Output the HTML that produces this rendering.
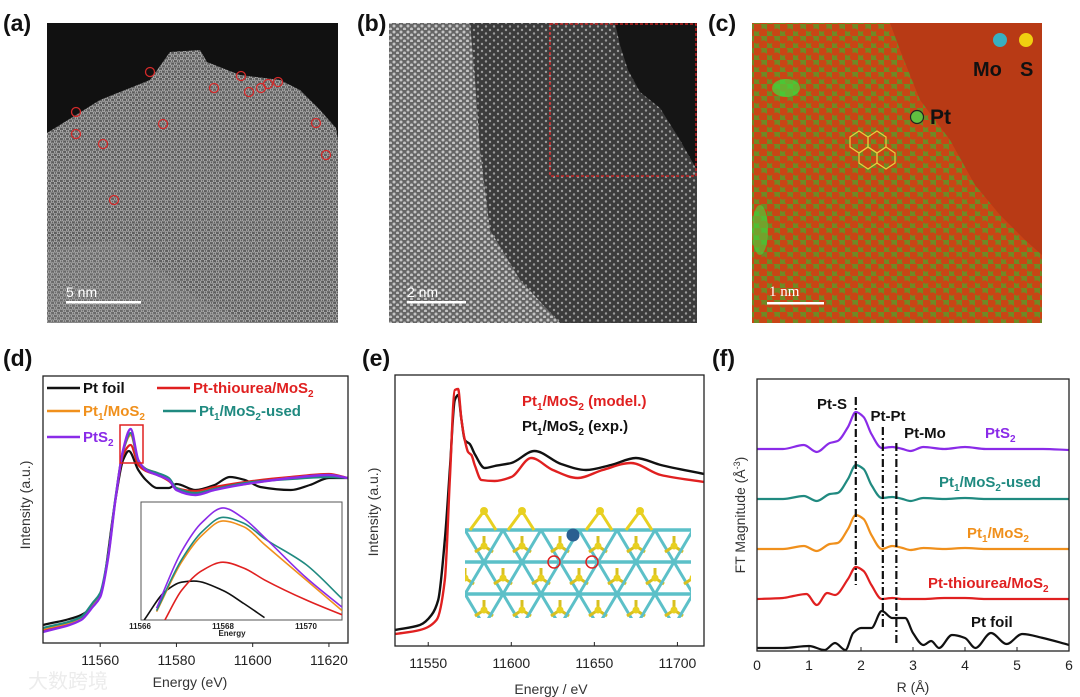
<!DOCTYPE html>
<html><head><meta charset="utf-8">
<style>
html,body{margin:0;padding:0;background:#fff;}
svg{display:block;font-family:"Liberation Sans","Noto Sans CJK SC",sans-serif;}
.pl{font-weight:bold;font-size:23px;fill:#111;}
.tk{font-size:14px;fill:#222;}
.at{font-size:14px;fill:#333;}
</style></head>
<body>
<svg id="fig" width="1080" height="697" viewBox="0 0 1080 697">
<defs>
  <pattern id="hexA" width="6" height="5.2" patternUnits="userSpaceOnUse">
    <rect width="6" height="5.2" fill="#5e5e5e"/>
    <circle cx="1.5" cy="1.3" r="1.3" fill="none" stroke="#b8b8b8" stroke-width="0.8"/>
    <circle cx="4.5" cy="3.9" r="1.3" fill="none" stroke="#b8b8b8" stroke-width="0.8"/>
  </pattern>
  <pattern id="dotB" width="7" height="6" patternUnits="userSpaceOnUse">
    <rect width="7" height="6" fill="#666"/>
    <circle cx="2" cy="2" r="1.5" fill="#c4c4c4"/>
    <circle cx="5.5" cy="5" r="1.5" fill="#c4c4c4"/>
  </pattern>
  <pattern id="dotB2" width="8" height="7" patternUnits="userSpaceOnUse">
    <rect width="8" height="7" fill="#3c3c3c"/>
    <circle cx="2" cy="2" r="1.2" fill="#9a9a9a"/>
    <circle cx="6" cy="5.5" r="1.2" fill="#9a9a9a"/>
  </pattern>
  <pattern id="dotC" width="13" height="12" patternUnits="userSpaceOnUse">
    <rect width="13" height="12" fill="#6f8a25"/>
    <circle cx="3" cy="3" r="4.6" fill="#c94515"/>
    <circle cx="9.5" cy="9" r="4.6" fill="#c94515"/>
  </pattern>
</defs>

<text class="pl" x="3" y="31">(a)</text>
<text class="pl" x="357" y="31">(b)</text>
<text class="pl" x="708" y="31">(c)</text>
<text class="pl" x="3" y="366">(d)</text>
<text class="pl" x="362" y="366">(e)</text>
<text class="pl" x="712" y="366">(f)</text>

<g>
  <rect x="47" y="23" width="291" height="300" fill="#111"/>
  <polygon points="47,133 100,100 150,80 170,52 200,50 207,62 240,75 280,80 300,90 320,110 336,128 338,140 338,323 47,323" fill="url(#hexA)"/>
  <polygon points="47,250 120,240 200,300 250,323 47,323" fill="#9a9a9a" opacity="0.2"/>
  <g fill="none" stroke="#d42a2a" stroke-width="1.3">
    <circle cx="150" cy="72" r="4.5"/><circle cx="241" cy="76" r="4.5"/><circle cx="214" cy="88" r="4.5"/>
    <circle cx="249" cy="92" r="4.5"/><circle cx="261" cy="88" r="4.5"/><circle cx="268" cy="84" r="4.5"/>
    <circle cx="278" cy="82" r="4.5"/><circle cx="76" cy="112" r="4.5"/><circle cx="76" cy="134" r="4.5"/>
    <circle cx="163" cy="124" r="4.5"/><circle cx="103" cy="144" r="4.5"/><circle cx="316" cy="123" r="4.5"/>
    <circle cx="326" cy="155" r="4.5"/><circle cx="114" cy="200" r="4.5"/>
  </g>
  <text x="66" y="297" font-size="14" fill="#fff">5 nm</text>
  <rect x="66" y="301" width="75" height="2.5" fill="#fff"/>
</g>

<g>
  <rect x="389" y="23" width="308" height="300" fill="url(#dotB)"/>
  <polygon points="470,23 697,23 697,323 560,323 520,280 490,230 480,150 475,80" fill="url(#dotB2)"/>
  <polygon points="615,23 697,23 697,170 680,140 660,108 640,92 628,70 620,45" fill="#151515"/>
  <rect x="550" y="24" width="146" height="152" fill="none" stroke="#e02020" stroke-width="1.3" stroke-dasharray="3,2"/>
  <text x="407" y="297" font-size="14" fill="#fff">2 nm</text>
  <rect x="407" y="301" width="59" height="2.5" fill="#fff"/>
</g>

<g>
  <rect x="752" y="23" width="290" height="300" fill="#b83a15"/>
  <polygon points="752,23 890,23 900,50 920,100 950,140 975,185 1000,215 1025,240 1042,255 1042,323 752,323" fill="url(#dotC)"/>
  <ellipse cx="786" cy="88" rx="14" ry="9" fill="#3ce03c" opacity="0.7"/>
  <ellipse cx="760" cy="230" rx="8" ry="25" fill="#3ce03c" opacity="0.6"/>
  <circle cx="1000" cy="40" r="7" fill="#38b0c0"/>
  <circle cx="1026" cy="40" r="7" fill="#f0d010"/>
  <text x="973" y="76" font-size="20" font-weight="bold" fill="#111">Mo</text>
  <text x="1020" y="76" font-size="20" font-weight="bold" fill="#111">S</text>
  <circle cx="917" cy="117" r="6.5" fill="#60c040" stroke="#222" stroke-width="1.2"/>
  <text x="930" y="124" font-size="21" font-weight="bold" fill="#111">Pt</text>
  <g stroke="#e6d040" stroke-width="1.2" fill="none">
    <polygon points="850,137 859,131 868,137 868,147 859,153 850,147"/>
    <polygon points="868,137 877,131 886,137 886,147 877,153 868,147"/>
    <polygon points="859,153 868,147 877,153 877,163 868,169 859,163"/>
    <polygon points="877,153 886,147 895,153 895,163 886,169 877,163"/>
  </g>
  <text x="769" y="296" font-size="15" fill="#fff" font-family="Liberation Serif, serif">1  nm</text>
  <rect x="767" y="302" width="57" height="2.5" fill="#fff"/>
</g>

<g id="pd"></g>
<g id="pe"></g>
<g id="pf"></g>

<text x="28" y="688" font-size="20" fill="#ececec">大数跨境</text>
</svg>

<script>
// ---------- Panel d data ----------
const dEnergy = [11545,11555,11558,11560,11562,11564,11566,11568,11570,11572,11575,11578,11580,11585,11590,11600,11610,11620,11625];
const dPtS2 = [0.11,0.23,0.36,0.46,0.83,1.43,1.93,2.14,1.83,1.73,1.68,1.63,1.53,1.48,1.53,1.60,1.65,1.68,1.65];
const dPt1 = [0.14,0.25,0.38,0.48,0.85,1.44,1.92,2.08,1.82,1.74,1.70,1.64,1.55,1.50,1.54,1.60,1.65,1.67,1.65];
const dUsed = [0.15,0.26,0.40,0.50,0.86,1.45,1.92,2.10,1.82,1.74,1.70,1.65,1.55,1.50,1.54,1.61,1.64,1.66,1.65];
const dThio = [0.13,0.24,0.37,0.47,0.84,1.43,1.88,1.98,1.78,1.72,1.68,1.62,1.55,1.52,1.56,1.62,1.66,1.69,1.65];
const dFoilEnergy = [11545,11555,11560,11564,11566,11567.5,11570,11572,11575,11578,11580,11585,11590,11594,11598,11602,11610,11615,11620,11625];
const dFoil = [0.18,0.28,0.48,1.43,1.83,1.92,1.73,1.63,1.55,1.55,1.59,1.53,1.58,1.66,1.63,1.56,1.53,1.58,1.65,1.65];
const dTicks = [11560,11580,11600,11620];
const insetEnergy = [11566.4,11567,11567.5,11568,11568.5,11569,11570,11570.9];
const insetPtS2 = [0.10,0.58,0.83,0.95,0.86,0.70,0.36,0.10];
const insetUsed = [0.08,0.51,0.75,0.87,0.82,0.69,0.47,0.17];
const insetPt1 = [0.07,0.49,0.72,0.84,0.79,0.64,0.34,0.07];
const insetThioEnergy = [11566.6,11567,11567.5,11568,11568.5,11569,11570,11570.9];
const insetThio = [0.0,0.25,0.42,0.49,0.44,0.34,0.17,0.04];
const insetFoilEnergy = [11566.1,11566.6,11567,11567.3,11568,11568.5,11569];
const insetFoil = [0.0,0.24,0.32,0.33,0.25,0.14,0.02];
const insetTicks = [11566,11568,11570];

// ---------- Panel e data ----------
const eModelEnergy = [11530,11545,11555,11560,11563,11566,11568,11570,11572,11574,11576,11578,11582,11590,11600,11612,11625,11640,11655,11672,11690,11716];
const eModel = [0.12,0.16,0.26,0.66,1.66,2.56,2.57,2.26,2.06,1.94,1.91,1.81,1.66,1.65,1.69,1.88,1.76,1.68,1.76,1.83,1.71,1.64];
const eExpEnergy = [11530,11545,11552,11556,11560,11563,11566,11568,11570,11572,11575,11578,11584,11590,11600,11614,11630,11645,11660,11675,11690,11716];
const eExp = [0.16,0.21,0.31,0.46,1.06,1.76,2.46,2.51,2.26,2.06,2.02,1.92,1.78,1.80,1.83,1.95,1.82,1.76,1.81,1.88,1.81,1.72];
const eTicks = [11550,11600,11650,11700];

// ---------- Panel f data ----------
const fR = [0,0.5,0.9,1.15,1.4,1.55,1.75,1.9,2.05,2.2,2.4,2.6,2.8,2.95,3.2,3.6,4.0,4.4,5.0,5.5,6.0];
const fPtS2 = [0,0,0.4,-0.3,0.6,0.8,2.2,3.7,3.2,1.5,0.1,0.2,0,-0.2,0.2,0,0.2,0,0,0,-0.1];
const fUsed = [0,0,0.3,-0.2,0.5,0.6,2.0,3.4,3.0,1.4,0.1,0.2,0,-0.2,0.1,0,0.1,0,0,0,0];
const fPt1 = [0,0,0.3,-0.2,0.5,0.6,2.0,3.4,3.0,1.4,0.0,0.3,0.1,-0.1,0.1,0,0.1,0,0,0,0];
const fThioR = [0,0.5,0.7,0.95,1.15,1.35,1.5,1.75,1.9,2.05,2.2,2.4,2.6,2.8,3.2,3.6,4.0,4.4,5.0,5.5,6.0];
const fThio = [0,0.1,0.3,0.5,-0.6,0.6,0.4,2.0,3.2,2.8,1.4,0.0,0.1,0,0,0.1,0.1,0,0,0,0];
const fFoilR = [0,0.5,1.0,1.3,1.5,1.7,1.85,2.0,2.2,2.4,2.6,2.85,3.0,3.2,3.35,3.5,3.75,4.0,4.2,4.5,4.8,5.1,5.5,6.0];
const fFoil = [0,0,0.2,-0.2,0.5,-0.2,1.5,2.0,2.0,3.7,3.0,3.0,1.5,0.3,0.7,0,1.3,1.0,0,1.5,0.4,1.4,1.0,0.3];
const fOffsets = [20.2,15.2,10.2,5.2,0.3];
const fMarkers = [1.9,2.42,2.68];
const fTicks = [0,1,2,3,4,5,6];

const NS = "http://www.w3.org/2000/svg";
function mk(parent, tag, attrs){ const el=document.createElementNS(NS,tag); for(const k in attrs) el.setAttribute(k,attrs[k]); parent.appendChild(el); return el; }
function lin(d0,d1,r0,r1){ return v => r0 + (v-d0)/(d1-d0)*(r1-r0); }
// monotone cubic (Fritsch-Carlson) in screen space
function smooth(p){
  const n=p.length; const dx=[],dy=[],m=[],t=[];
  for(let i=0;i<n-1;i++){ dx[i]=p[i+1][0]-p[i][0]; dy[i]=p[i+1][1]-p[i][1]; m[i]=dy[i]/dx[i]; }
  t[0]=m[0]; t[n-1]=m[n-2];
  for(let i=1;i<n-1;i++){ if(m[i-1]*m[i]<=0) t[i]=0; else { const w1=2*dx[i]+dx[i-1], w2=dx[i]+2*dx[i-1]; t[i]=(w1+w2)/(w1/m[i-1]+w2/m[i]); } }
  let d="M"+p[0][0].toFixed(1)+","+p[0][1].toFixed(1);
  for(let i=0;i<n-1;i++){
    const h=dx[i]/3;
    d+=" C"+(p[i][0]+h).toFixed(1)+","+(p[i][1]+t[i]*h).toFixed(1)+" "+(p[i+1][0]-h).toFixed(1)+","+(p[i+1][1]-t[i+1]*h).toFixed(1)+" "+p[i+1][0].toFixed(1)+","+p[i+1][1].toFixed(1);
  }
  return d;
}
function line(g, xs, ys, sx, sy, color, w, name, off){
  off = off||0;
  const pts = xs.map((x,i)=>[sx(x), sy(ys[i]+off)]);
  const p = mk(g,"path",{d:smooth(pts), fill:"none", stroke:color, "stroke-width":w, "stroke-linejoin":"round"});
  
  
  return p;
}
function txt(g, x, y, s, attrs, name){
  const t = mk(g,"text",Object.assign({x:x,y:y},attrs||{})); t.textContent=s;
  
  
  return t;
}
function richLabel(g,x,y,parts,color,size,name){
  const t = mk(g,"text",{x:x,y:y,fill:color,"font-size":size,"font-weight":"bold"});
  
  
  parts.forEach(p=>{
    const ts=document.createElementNS(NS,"tspan");
    if(p[1]==="sub"){ ts.setAttribute("font-size",Math.round(size*0.65)); ts.setAttribute("dy","4"); }
    else if(p[1]==="up"){ ts.setAttribute("dy","-4"); }
    ts.textContent=p[0]; t.appendChild(ts);
  });
  return t;
}

const BLACK="#111", RED="#e02020", ORANGE="#f0901c", TEAL="#208a80", PURPLE="#8a2be8";

// ---------- Panel d ----------
(function(){
  const g=document.getElementById("pd");
  const L=43,R=348,T=376,B=643;
  const sx=lin(11545,11625,L,R), sy=lin(0,2.67,B,T);
  const clip=mk(document.querySelector("defs"),"clipPath",{id:"clipD"}); mk(clip,"rect",{x:L,y:T,width:R-L,height:B-T});
  const cg=mk(g,"g",{"clip-path":"url(#clipD)"});
  line(cg,dFoilEnergy,dFoil,sx,sy,BLACK,2.2,"line-pt-foil");
  line(cg,dEnergy,dThio,sx,sy,RED,2.2,"line-pt-thiourea");
  line(cg,dEnergy,dPt1,sx,sy,ORANGE,2.2,"line-pt1-mos2");
  line(cg,dEnergy,dUsed,sx,sy,TEAL,2.2,"line-pt1-mos2-used");
  line(cg,dEnergy,dPtS2,sx,sy,PURPLE,2.4,"line-pts2");
  const f=mk(g,"rect",{x:L,y:T,width:R-L,height:B-T,fill:"none",stroke:"#222","stroke-width":1.3});
   
  dTicks.forEach(v=>{ mk(g,"line",{x1:sx(v),x2:sx(v),y1:B,y2:B+4,stroke:"#222"}); txt(g,sx(v),B+22,String(v),{"class":"tk","text-anchor":"middle"},"x-tick-d"); });
  txt(g,190,687,"Energy (eV)",{"class":"at","text-anchor":"middle"},"x-axis-title-d");
  txt(g,0,0,"Intensity (a.u.)",{"class":"at","text-anchor":"middle",transform:"translate(30,505) rotate(-90)"},"y-axis-title-d");
  const rb=mk(g,"rect",{x:120,y:425,width:23,height:38,fill:"none",stroke:RED,"stroke-width":1.5});
   
  const leg=[[47,388,BLACK,[["Pt foil"]],"legend-pt-foil"],[157,388,RED,[["Pt-thiourea/MoS"],["2","sub"]],"legend-pt-thiourea"],
             [47,411,ORANGE,[["Pt"],["1","sub"],["/MoS","up"],["2","sub"]],"legend-pt1-mos2"],[163,411,TEAL,[["Pt"],["1","sub"],["/MoS","up"],["2","sub"],["-used","up"]],"legend-pt1-mos2-used"],
             [47,437,PURPLE,[["PtS"],["2","sub"]],"legend-pts2"]];
  leg.forEach(l=>{ mk(g,"line",{x1:l[0],x2:l[0]+33,y1:l[1],y2:l[1],stroke:l[2],"stroke-width":2.4}); richLabel(g,l[0]+36,l[1]+5,l[3],l[2],15,l[4]); });
  const iL=141,iR=342,iT=502,iB=620;
  const ix=lin(11566,11568,140,223), iy=lin(0,1,iB,iT);
  const ir=mk(g,"rect",{x:iL,y:iT,width:iR-iL,height:iB-iT,fill:"#fff",stroke:"#555","stroke-width":1});
   
  const ic=mk(document.querySelector("defs"),"clipPath",{id:"clipI"}); mk(ic,"rect",{x:iL,y:iT,width:iR-iL,height:iB-iT});
  const ig=mk(g,"g",{"clip-path":"url(#clipI)"});
  line(ig,insetFoilEnergy,insetFoil,ix,iy,BLACK,1.6,"inset-line-pt-foil");
  line(ig,insetThioEnergy,insetThio,ix,iy,RED,1.6,"inset-line-pt-thiourea");
  line(ig,insetEnergy,insetPt1,ix,iy,ORANGE,1.6,"inset-line-pt1-mos2");
  line(ig,insetEnergy,insetUsed,ix,iy,TEAL,1.6,"inset-line-pt1-mos2-used");
  line(ig,insetEnergy,insetPtS2,ix,iy,PURPLE,1.6,"inset-line-pts2");
  insetTicks.forEach(v=>{ txt(g,ix(v),iB+9,String(v),{"font-size":8,"font-weight":"bold","text-anchor":"middle",fill:"#222"},"inset-x-tick"); });
  txt(g,232,iB+16,"Energy",{"font-size":8,"font-weight":"bold","text-anchor":"middle",fill:"#222"},"inset-x-axis-title");
})();

// ---------- Panel e ----------
(function(){
  const g=document.getElementById("pe");
  const L=395,R=704,T=375,B=646;
  const sx=lin(11530,11716,L,R), sy=lin(0,2.71,B,T);
  const clip=mk(document.querySelector("defs"),"clipPath",{id:"clipE"}); mk(clip,"rect",{x:L,y:T,width:R-L,height:B-T});
  const cg=mk(g,"g",{"clip-path":"url(#clipE)"});
  line(cg,eExpEnergy,eExp,sx,sy,BLACK,2.4,"line-exp");
  line(cg,eModelEnergy,eModel,sx,sy,RED,2.4,"line-model");
  const f=mk(g,"rect",{x:L,y:T,width:R-L,height:B-T,fill:"none",stroke:"#222","stroke-width":1.3});
   
  eTicks.forEach(v=>{ mk(g,"line",{x1:sx(v),x2:sx(v),y1:B,y2:B-4,stroke:"#222"}); txt(g,sx(v),B+22,String(v),{"class":"tk","text-anchor":"middle"},"x-tick-e"); });
  txt(g,551,694,"Energy / eV",{"class":"at","text-anchor":"middle"},"x-axis-title-e");
  txt(g,0,0,"Intensity (a.u.)",{"class":"at","text-anchor":"middle",transform:"translate(378,512) rotate(-90)"},"y-axis-title-e");
  richLabel(g,522,406,[["Pt"],["1","sub"],["/MoS","up"],["2","sub"],[" (model.)","up"]],RED,15,"legend-model");
  richLabel(g,522,431,[["Pt"],["1","sub"],["/MoS","up"],["2","sub"],[" (exp.)","up"]],BLACK,15,"legend-exp");
  const sc=mk(document.querySelector("defs"),"clipPath",{id:"clipS"}); mk(sc,"rect",{x:465,y:503,width:226,height:115});
  const s=mk(g,"g",{"clip-path":"url(#clipS)"});  
  mk(s,"rect",{x:465,y:503,width:226,height:115,fill:"#fff"});
  const rows=[530,562,594,626];
  const tl="#5cc0c8";
  for(let r=0;r<3;r++){
    const y0=rows[r], y1=rows[r+1];
    mk(s,"line",{x1:465,x2:691,y1:y0,y2:y0,stroke:tl,"stroke-width":3.5});
    for(let x=446+((r%2)?0:19); x<720; x+=38){
      mk(s,"line",{x1:x,y1:y0,x2:x+19,y2:y1,stroke:tl,"stroke-width":3});
      mk(s,"line",{x1:x,y1:y0,x2:x-19,y2:y1,stroke:tl,"stroke-width":3});
      const cx=x+19;
      mk(s,"line",{x1:cx,y1:y0+16,x2:cx,y2:y0+6,stroke:"#d8c020","stroke-width":3});
      mk(s,"line",{x1:cx,y1:y0+16,x2:cx-9,y2:y0+22,stroke:"#d8c020","stroke-width":3});
      mk(s,"line",{x1:cx,y1:y0+16,x2:cx+9,y2:y0+22,stroke:"#d8c020","stroke-width":3});
      mk(s,"circle",{cx:cx,cy:y0+16,r:3.5,fill:"#e8d020"});
    }
  }
  [484,522,600,640].forEach(x=>{ mk(s,"line",{x1:x,y1:511,x2:x-14,y2:530,stroke:"#e8d020","stroke-width":3}); mk(s,"line",{x1:x,y1:511,x2:x+12,y2:530,stroke:"#e8d020","stroke-width":3}); mk(s,"circle",{cx:x,cy:511,r:4,fill:"#e8d020"}); });
  mk(s,"circle",{cx:573,cy:535,r:6.5,fill:"#2a5f90"});
  mk(s,"circle",{cx:554,cy:562,r:6,fill:"none",stroke:RED,"stroke-width":1.5});
  mk(s,"circle",{cx:592,cy:562,r:6,fill:"none",stroke:RED,"stroke-width":1.5});
})();

// ---------- Panel f ----------
(function(){
  const g=document.getElementById("pf");
  const L=757,R=1069,T=379,B=651;
  const sx=lin(0,6,L,R), sy=lin(0,27.2,B,T);
  line(g,fR,fPtS2,sx,sy,PURPLE,2.2,"line-pts2-ft",fOffsets[0]);
  line(g,fR,fUsed,sx,sy,TEAL,2.2,"line-pt1-mos2-used-ft",fOffsets[1]);
  line(g,fR,fPt1,sx,sy,ORANGE,2.2,"line-pt1-mos2-ft",fOffsets[2]);
  line(g,fThioR,fThio,sx,sy,RED,2.2,"line-pt-thiourea-ft",fOffsets[3]);
  line(g,fFoilR,fFoil,sx,sy,BLACK,2.2,"line-pt-foil-ft",fOffsets[4]);
  const mt=[[397,585],[427,630],[443,645]];
  fMarkers.forEach((m,i)=>{ const l=mk(g,"line",{x1:sx(m),x2:sx(m),y1:mt[i][0],y2:mt[i][1],stroke:"#111","stroke-width":2.2,"stroke-dasharray":"8,3,2,3"});
      });
  txt(g,832,409,"Pt-S",{"font-size":15,"font-weight":"bold","text-anchor":"middle",fill:"#111"},"label-pt-s");
  txt(g,888,421,"Pt-Pt",{"font-size":15,"font-weight":"bold","text-anchor":"middle",fill:"#111"},"label-pt-pt");
  txt(g,925,438,"Pt-Mo",{"font-size":15,"font-weight":"bold","text-anchor":"middle",fill:"#111"},"label-pt-mo");
  richLabel(g,985,438,[["PtS"],["2","sub"]],PURPLE,15,"label-pts2");
  richLabel(g,939,487,[["Pt"],["1","sub"],["/MoS","up"],["2","sub"],["-used","up"]],TEAL,15,"label-pt1-mos2-used");
  richLabel(g,967,538,[["Pt"],["1","sub"],["/MoS","up"],["2","sub"]],ORANGE,15,"label-pt1-mos2");
  richLabel(g,928,588,[["Pt-thiourea/MoS"],["2","sub"]],RED,15,"label-pt-thiourea");
  richLabel(g,971,627,[["Pt foil"]],BLACK,15,"label-pt-foil");
  const f=mk(g,"rect",{x:L,y:T,width:R-L,height:B-T,fill:"none",stroke:"#222","stroke-width":1.3});
   
  fTicks.forEach(v=>{ mk(g,"line",{x1:sx(v),x2:sx(v),y1:B,y2:B-4,stroke:"#222"}); txt(g,sx(v),B+19,String(v),{"class":"tk","text-anchor":"middle"},"x-tick-f"); });
  txt(g,913,692,"R (Å)",{"class":"at","text-anchor":"middle"},"x-axis-title-f");
  const yt=txt(g,0,0,"FT Magnitude (Å",{"class":"at","text-anchor":"middle",transform:"translate(745,515) rotate(-90)"},"y-axis-title-f");
  const sp=document.createElementNS(NS,"tspan"); sp.setAttribute("dy","-5"); sp.setAttribute("font-size","9"); sp.textContent="-3"; yt.appendChild(sp);
  const sp2=document.createElementNS(NS,"tspan"); sp2.setAttribute("dy","5"); sp2.textContent=")"; yt.appendChild(sp2);
})();
</script>
</body></html>
